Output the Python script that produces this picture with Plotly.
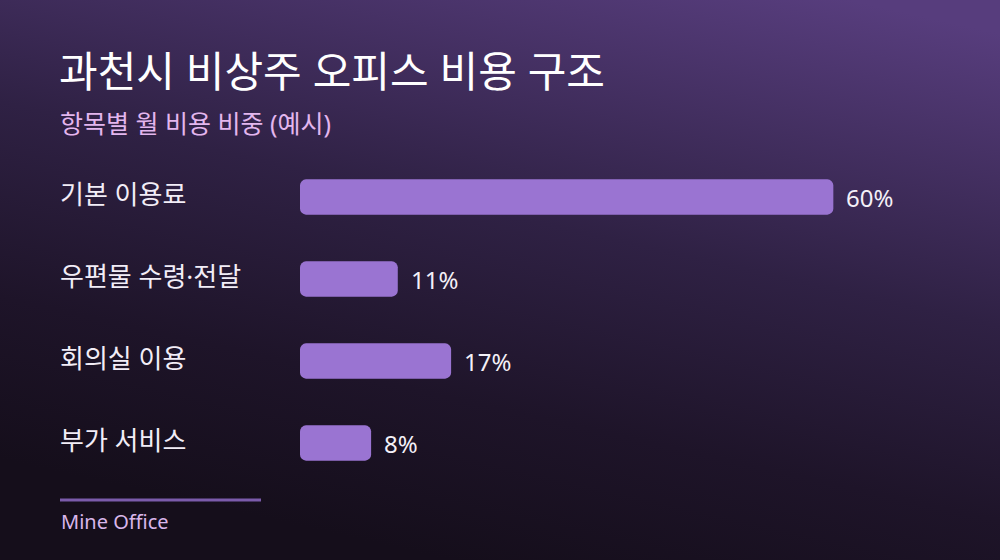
import base64
import plotly.graph_objects as go

# data
categories = ["기본 이용료", "우편물 수령·전달", "회의실 이용", "부가 서비스"]
shares = [60, 11, 17, 8]
value_labels = ["60%", "11%", "17%", "8%"]

title = "과천시 비상주 오피스 비용 구조"
subtitle = "항목별 월 비용 비중 (예시)"
source = "Mine Office"

W, H = 1000, 560
M_L, M_R, M_T, M_B = 300, 100, 156, 76
FONT = "Noto Sans, Noto Sans CJK KR, sans-serif"
BAR = "#9a74d2"


def py(pixel_y):
    # pixel row -> paper y
    return (H - M_B - pixel_y) / (H - M_T - M_B)


def px(pixel_x):
    return (pixel_x - M_L) / (W - M_L - M_R)


# background gradient as an svg image
svg = f"""<svg xmlns='http://www.w3.org/2000/svg' width='{W}' height='{H}'>
<defs><linearGradient id='g' x1='0.85' y1='0' x2='0.45' y2='1'>
<stop offset='0' stop-color='#573d7d'/>
<stop offset='0.45' stop-color='#2f2144'/>
<stop offset='0.75' stop-color='#1e1429'/>
<stop offset='1' stop-color='#150e1b'/>
</linearGradient></defs>
<rect width='{W}' height='{H}' fill='url(#g)'/></svg>"""
bg = "data:image/svg+xml;base64," + base64.b64encode(svg.encode()).decode()

fig = go.Figure()
# an explicit base makes plotly round both ends of the bar
fig.add_trace(go.Bar(
    x=shares, y=categories, base=[0] * len(shares), orientation="h",
    marker=dict(color=BAR, cornerradius=6, line=dict(width=0)),
    hoverinfo="skip",
))

annos = []
for c, v, lab in zip(categories, shares, value_labels):
    annos.append(dict(x=px(58), xref="paper", y=c, yref="y", yshift=3, text=c,
                      xanchor="left", yanchor="middle", showarrow=False,
                      font=dict(family=FONT, size=26, color="#f2edf7")))
    annos.append(dict(x=v, xref="x", y=c, yref="y", text=lab, xshift=11,
                      xanchor="left", yanchor="middle", showarrow=False,
                      font=dict(family=FONT, size=24, color="#f4f0f8")))

annos.append(dict(x=px(57), xref="paper", y=py(70), yref="paper", text=title,
                  xanchor="left", yanchor="middle", showarrow=False,
                  font=dict(family=FONT, size=42, color="#ffffff")))
annos.append(dict(x=px(58), xref="paper", y=py(123), yref="paper", text=subtitle,
                  xanchor="left", yanchor="middle", showarrow=False,
                  font=dict(family=FONT, size=25, color="#e3b6ee")))
annos.append(dict(x=px(59), xref="paper", y=py(521), yref="paper", text=source,
                  xanchor="left", yanchor="middle", showarrow=False,
                  font=dict(family=FONT, size=20, color="#d9b6ea")))

fig.update_layout(
    width=W, height=H,
    margin=dict(l=M_L, r=M_R, t=M_T, b=M_B),
    paper_bgcolor="#1c1326", plot_bgcolor="rgba(0,0,0,0)",
    bargap=0.57, showlegend=False,
    xaxis=dict(range=[0, 67.5], visible=False, fixedrange=True),
    yaxis=dict(autorange="reversed", visible=False, fixedrange=True),
    annotations=annos,
    shapes=[dict(type="line", xref="paper", yref="paper",
                 x0=px(60), x1=px(261), y0=py(500), y1=py(500),
                 line=dict(color="#7b5bab", width=3))],
    images=[dict(source=bg, xref="paper", yref="paper",
                 x=px(0), y=py(0), sizex=px(W) - px(0), sizey=py(0) - py(H),
                 xanchor="left", yanchor="top", sizing="stretch", layer="below")],
)

fig.write_html("out.html", config={"displayModeBar": False},
               post_script="document.body.style.margin='0';document.body.style.background='#150e1b';")
